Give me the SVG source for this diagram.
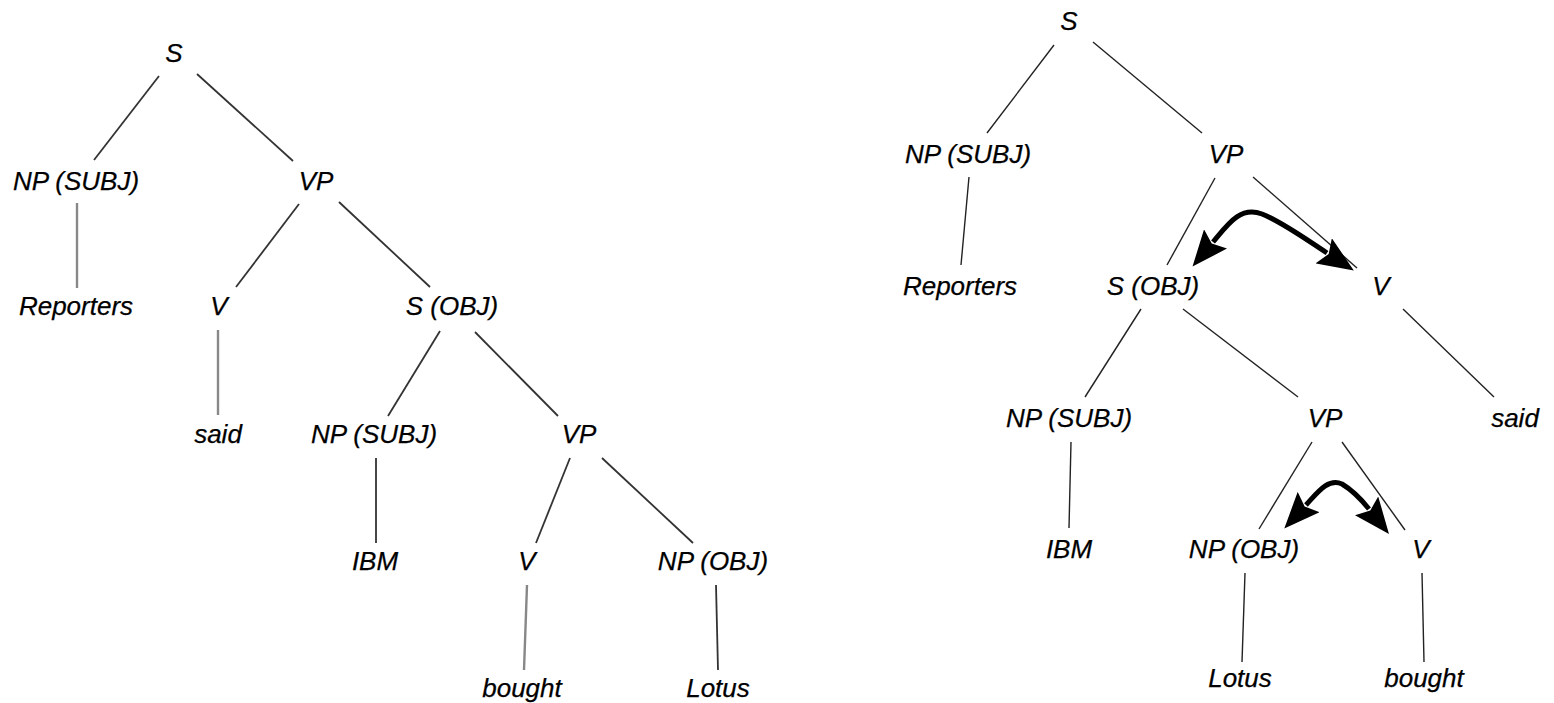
<svg xmlns="http://www.w3.org/2000/svg" width="1554" height="703" viewBox="0 0 1554 703">
<style>
text{font-family:"Liberation Sans",Arial,sans-serif;font-style:italic;font-size:26px;fill:#000;stroke:#000;stroke-width:0.25;text-anchor:middle}
.e{stroke:#333;stroke-width:1.8;fill:none}
.g{stroke:#888;stroke-width:2.4;fill:none}
.t{stroke:#222;stroke-width:1.4;fill:none}
.mv{stroke:#000;stroke-width:5;fill:none;marker-start:url(#ah);marker-end:url(#ah)}
</style>
<defs>
<marker id="ah" viewBox="0 0 36 30" markerWidth="36" markerHeight="30" refX="4" refY="15" orient="auto-start-reverse" markerUnits="userSpaceOnUse">
<path d="M0,0 L36,15 L0,30 L6,15 z" fill="#000"/>
</marker>
</defs>
<rect width="1554" height="703" fill="#fff"/>
<g id="connectors">
<line class="e" x1="159" y1="76" x2="94" y2="160"/>
<line class="e" x1="197" y1="74" x2="293" y2="161"/>
<line class="g" x1="77" y1="203" x2="77" y2="288"/>
<line class="e" x1="299" y1="204" x2="236" y2="287"/>
<line class="e" x1="339" y1="202" x2="430" y2="287"/>
<line class="g" x1="218" y1="330" x2="218" y2="415"/>
<line class="e" x1="440" y1="331" x2="388" y2="416"/>
<line class="e" x1="475" y1="332" x2="558" y2="416"/>
<line class="e" x1="376" y1="458" x2="376" y2="543"/>
<line class="e" x1="570" y1="458" x2="536" y2="543"/>
<line class="e" x1="602" y1="458" x2="693" y2="543"/>
<line class="g" x1="527" y1="585" x2="524" y2="670"/>
<line class="e" x1="716" y1="585" x2="718" y2="670"/>

<line class="t" x1="1054" y1="45" x2="987" y2="133"/>
<line class="t" x1="1093" y1="42" x2="1202" y2="133"/>
<line class="t" x1="969" y1="177" x2="961" y2="265"/>
<line class="t" x1="1215" y1="178" x2="1167" y2="265"/>
<line class="t" x1="1253" y1="177" x2="1357" y2="268"/>
<line class="t" x1="1141" y1="309" x2="1085" y2="397"/>
<line class="t" x1="1183" y1="309" x2="1298" y2="397"/>
<line class="t" x1="1403" y1="309" x2="1494" y2="397"/>
<line class="t" x1="1071" y1="442" x2="1069" y2="528"/>
<line class="t" x1="1312" y1="442" x2="1259" y2="529"/>
<line class="t" x1="1342" y1="442" x2="1405" y2="530"/>
<line class="t" x1="1245" y1="573" x2="1242" y2="662"/>
<line class="t" x1="1422" y1="573" x2="1424" y2="662"/>

<path class="mv" d="M1213,242 C1228,224 1240,206 1262,214 C1282,222 1304,238 1327,253"/>
<path class="mv" d="M1306,505 C1318,492 1328,478 1342,484 C1352,490 1361,499 1369,509"/>
</g>

<g id="l-s"><text x="174" y="62">S</text></g>
<g id="l-np-subj"><text x="76" y="190">NP (SUBJ)</text></g>
<g id="l-vp"><text x="316" y="190">VP</text></g>
<g id="l-reporters"><text x="76" y="315">Reporters</text></g>
<g id="l-v"><text x="219" y="315">V</text></g>
<g id="l-s-obj"><text x="452" y="315">S (OBJ)</text></g>
<g id="l-said"><text x="218" y="443">said</text></g>
<g id="l-np-subj2"><text x="374" y="443">NP (SUBJ)</text></g>
<g id="l-vp2"><text x="579" y="443">VP</text></g>
<g id="l-ibm"><text x="375" y="570">IBM</text></g>
<g id="l-v2"><text x="527" y="570">V</text></g>
<g id="l-np-obj"><text x="713" y="570">NP (OBJ)</text></g>
<g id="l-bought"><text x="522" y="697">bought</text></g>
<g id="l-lotus"><text x="718" y="697">Lotus</text></g>

<g id="r-s"><text x="1069" y="30">S</text></g>
<g id="r-np-subj"><text x="968" y="163">NP (SUBJ)</text></g>
<g id="r-vp"><text x="1226" y="163">VP</text></g>
<g id="r-reporters"><text x="960" y="295">Reporters</text></g>
<g id="r-s-obj"><text x="1153" y="295">S (OBJ)</text></g>
<g id="r-v"><text x="1381" y="295">V</text></g>
<g id="r-np-subj2"><text x="1069" y="427">NP (SUBJ)</text></g>
<g id="r-vp2"><text x="1325" y="427">VP</text></g>
<g id="r-said"><text x="1515" y="427">said</text></g>
<g id="r-ibm"><text x="1069" y="558">IBM</text></g>
<g id="r-np-obj"><text x="1244" y="558">NP (OBJ)</text></g>
<g id="r-v2"><text x="1421" y="558">V</text></g>
<g id="r-lotus"><text x="1240" y="687">Lotus</text></g>
<g id="r-bought"><text x="1424" y="687">bought</text></g>
</svg>
